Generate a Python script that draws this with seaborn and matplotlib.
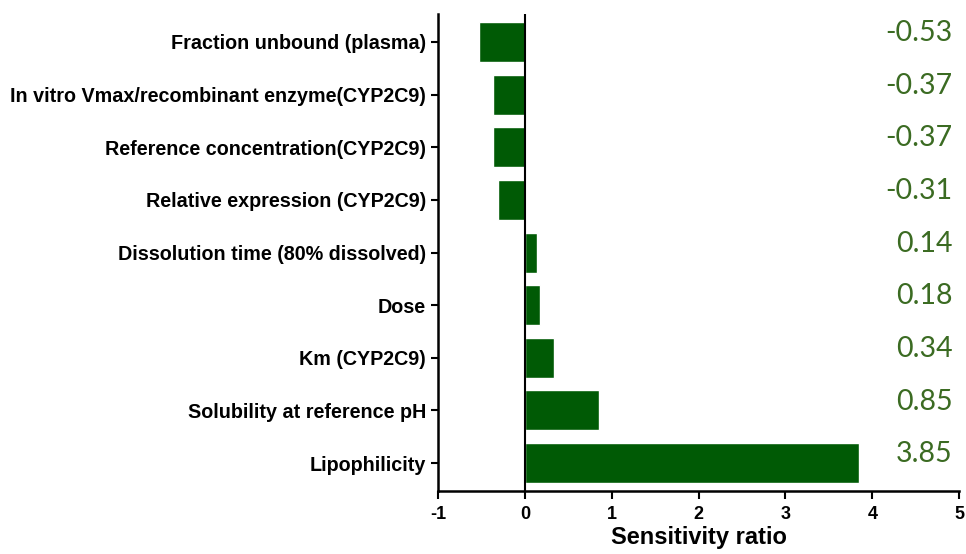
import matplotlib
matplotlib.use("Agg")
import matplotlib.pyplot as plt
import seaborn as sns
import pandas as pd

parameters = [
    "Fraction unbound (plasma)",
    "In vitro Vmax/recombinant enzyme(CYP2C9)",
    "Reference concentration(CYP2C9)",
    "Relative expression (CYP2C9)",
    "Dissolution time (80% dissolved)",
    "Dose",
    "Km (CYP2C9)",
    "Solubility at reference pH",
    "Lipophilicity",
]
sensitivity = [-0.53, -0.37, -0.37, -0.31, 0.14, 0.18, 0.34, 0.85, 3.85]
value_labels = ["-0.53", "-0.37", "-0.37", "-0.31", "0.14", "0.18", "0.34", "0.85", "3.85"]
x_ticks = [-1, 0, 1, 2, 3, 4, 5]

df = pd.DataFrame({"parameter": parameters, "ratio": sensitivity})

sns.set_style("ticks", {"axes.edgecolor": "black", "xtick.color": "black",
                        "ytick.color": "black", "text.color": "black",
                        "axes.labelcolor": "black"})
plt.rcParams["font.family"] = ["Liberation Sans", "DejaVu Sans"]

fig = plt.figure(figsize=(9.66, 5.54), dpi=100)
ax = fig.add_axes([0.4534, 0.1137, 0.5396, 0.861])

sns.barplot(data=df, x="ratio", y="parameter", orient="h", color="#005a05",
            saturation=1, width=0.76, ax=ax, order=parameters)

ax.set_xlim(-1, 5)
ax.set_ylim(8.53, -0.53)
ax.set_xticks(x_ticks)
ax.set_xticklabels([str(t) for t in x_ticks], fontweight="bold", fontsize=13)
ax.tick_params(axis="y", labelsize=14.2, length=5, width=1.5, direction="out",
               colors="black")
ax.tick_params(axis="x", length=6, width=1.5, direction="out", pad=5,
               colors="black")
for lbl in ax.get_yticklabels():
    lbl.set_fontweight("bold")
ax.set_ylabel("")
ax.set_xlabel("Sensitivity ratio", fontweight="bold", fontsize=17, labelpad=2,
              color="black")

for s in ["top", "right"]:
    ax.spines[s].set_visible(False)
for s in ["left", "bottom"]:
    ax.spines[s].set_linewidth(1.8)
    ax.spines[s].set_color("black")

ax.axvline(0, color="black", lw=1.5, zorder=3)

for i, lab in enumerate(value_labels):
    ax.text(4.92, i - 0.17, lab, ha="right", va="center", fontsize=20.5,
            color="#3b6b22", family=["Lato", "DejaVu Sans"])

fig.savefig("out.png", dpi=100)
